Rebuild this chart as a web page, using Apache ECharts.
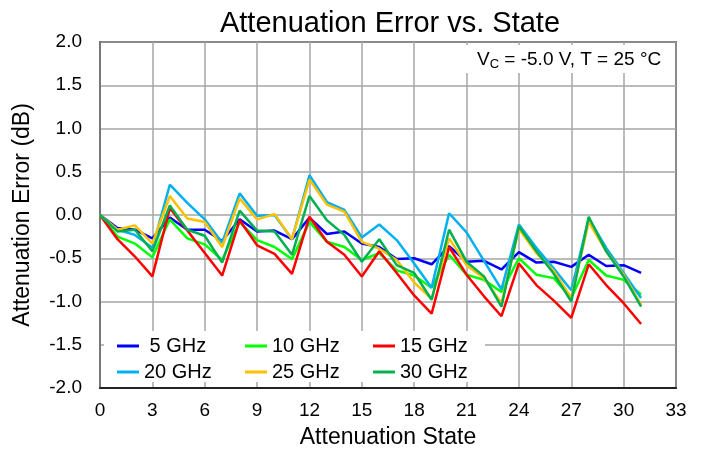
<!DOCTYPE html>
<html>
<head>
<meta charset="utf-8">
<script src="https://cdn.jsdelivr.net/npm/echarts@6/dist/echarts.min.js"></script>
<style>
html,body{margin:0;padding:0;background:#fff;}
#chart{width:705px;height:454px;}
</style>
</head>
<body>
<div id="chart"></div>
<script>
const states = [0,1,2,3,4,5,6,7,8,9,10,11,12,13,14,15,16,17,18,19,20,21,22,23,24,25,26,27,28,29,30,31];
const xTicks = [0,3,6,9,12,15,18,21,24,27,30,33];
const yTicks = [-2.0,-1.5,-1.0,-0.5,0.0,0.5,1.0,1.5,2.0];

const ghz5  = [0,-0.15,-0.17,-0.27,-0.03,-0.17,-0.17,-0.30,-0.05,-0.19,-0.18,-0.28,-0.03,-0.22,-0.19,-0.33,-0.37,-0.51,-0.50,-0.57,-0.36,-0.54,-0.53,-0.63,-0.43,-0.55,-0.54,-0.60,-0.46,-0.59,-0.58,-0.67];
const ghz10 = [0,-0.25,-0.33,-0.49,-0.05,-0.27,-0.34,-0.52,-0.08,-0.29,-0.37,-0.51,-0.08,-0.31,-0.37,-0.52,-0.44,-0.64,-0.70,-0.84,-0.46,-0.69,-0.75,-0.89,-0.50,-0.69,-0.73,-0.96,-0.52,-0.70,-0.75,-0.92];
const ghz15 = [0,-0.28,-0.48,-0.71,0.08,-0.18,-0.44,-0.70,-0.06,-0.35,-0.45,-0.68,-0.02,-0.31,-0.46,-0.71,-0.42,-0.67,-0.93,-1.14,-0.37,-0.69,-0.94,-1.17,-0.56,-0.81,-0.99,-1.19,-0.57,-0.81,-1.02,-1.26];
const ghz20 = [0,-0.17,-0.23,-0.38,0.35,0.14,-0.05,-0.32,0.25,-0.01,0.00,-0.28,0.46,0.15,0.06,-0.26,-0.11,-0.29,-0.56,-0.84,0.02,-0.20,-0.53,-0.86,-0.11,-0.38,-0.62,-0.87,-0.04,-0.38,-0.67,-0.96];
const ghz25 = [0,-0.17,-0.12,-0.33,0.22,-0.04,-0.08,-0.37,0.19,-0.05,0.01,-0.28,0.41,0.12,0.04,-0.31,-0.39,-0.52,-0.78,-0.97,-0.27,-0.58,-0.73,-1.02,-0.16,-0.44,-0.65,-0.96,-0.08,-0.42,-0.69,-1.04];
const ghz30 = [0,-0.19,-0.17,-0.42,0.11,-0.17,-0.24,-0.55,0.05,-0.18,-0.19,-0.46,0.22,-0.06,-0.23,-0.54,-0.28,-0.58,-0.67,-0.98,-0.17,-0.54,-0.71,-1.06,-0.13,-0.42,-0.68,-1.00,-0.02,-0.42,-0.71,-1.06];

const seriesNames = ['5 GHz','10 GHz','15 GHz','20 GHz','25 GHz','30 GHz'];
const seriesData = [ghz5, ghz10, ghz15, ghz20, ghz25, ghz30];
const seriesColors = ['#0000FF','#00FF00','#FF0000','#00B0F0','#FFC000','#00B050'];

const FONT = 'Arial, "Liberation Sans", sans-serif';

const chart = echarts.init(document.getElementById('chart'), null, {renderer:'canvas'});

const series = seriesNames.map((n, i) => ({
  name: n,
  type: 'line',
  data: states.map((s, j) => [s, seriesData[i][j]]),
  showSymbol: false,
  symbol: 'none',
  lineStyle: {width: 2.5, color: seriesColors[i]},
  itemStyle: {color: seriesColors[i]},
  z: 2,
  animation: false
}));

const legendCommon = {
  orient: 'horizontal',
  left: 117,
  itemWidth: 22,
  itemHeight: 3,
  itemGap: 21,
  padding: 0,
  icon: 'rect',
  textStyle: {fontFamily: FONT, fontSize: 20, color: '#000', width: 80, lineHeight: 20},
  formatter: name => name === '5 GHz' ? ' 5 GHz' : name,
  z: 5
};

chart.setOption({
  animation: false,
  backgroundColor: '#fff',
  title: {
    text: 'Attenuation Error vs. State',
    left: 385,
    textAlign: 'center',
    top: 4,
    textStyle: {fontFamily: FONT, fontSize: 29, fontWeight: 'normal', color: '#000'}
  },
  grid: {
    left: 100, right: 29, top: 42, bottom: 66,
    show: true, borderColor: '#000', borderWidth: 1.5, containLabel: false
  },
  legend: [
    Object.assign({}, legendCommon, {data: seriesNames.slice(0,3), top: 336}),
    Object.assign({}, legendCommon, {data: seriesNames.slice(3,6), top: 362})
  ],
  xAxis: {
    type: 'value',
    min: 0, max: 33, interval: 3,
    name: 'Attenuation State',
    nameLocation: 'middle',
    nameGap: 38,
    nameTextStyle: {fontFamily: FONT, fontSize: 23, color: '#000'},
    axisLine: {show: true, onZero: false, lineStyle: {color: '#222', width: 2}},
    axisTick: {show: false},
    axisLabel: {fontFamily: FONT, fontSize: 19, color: '#000', margin: 13,
      customValues: xTicks},
    splitLine: {show: true, lineStyle: {color: '#a6a6a6', width: 1.5}}
  },
  yAxis: {
    type: 'value',
    min: -2, max: 2, interval: 0.5,
    name: 'Attenuation Error (dB)',
    nameLocation: 'middle',
    nameGap: 66,
    nameRotate: 90,
    nameTextStyle: {fontFamily: FONT, fontSize: 23, color: '#000'},
    axisLine: {show: true, onZero: false, lineStyle: {color: '#777', width: 2}},
    axisTick: {show: false},
    axisLabel: {fontFamily: FONT, fontSize: 19, color: '#000', margin: 18,
      formatter: v => v.toFixed(1)},
    splitLine: {show: true, lineStyle: {color: '#a6a6a6', width: 1.5}}
  },
  graphic: [
    {type: 'rect', shape: {x: 104, y: 331, width: 381, height: 51}, style: {fill: '#fff'}, z: 3, silent: true},
    {type: 'rect', shape: {x: 462, y: 45, width: 212, height: 28}, style: {fill: '#fff'}, z: 3, silent: true},
    {type: 'text', x: 477, y: 60, z: 4, style: {
      text: '{v|V}{s|C}{v| = -5.0 V, T = 25 °C}',
      verticalAlign: 'middle',
      rich: {
        v: {fontFamily: FONT, fontSize: 19, fill: '#000', lineHeight: 22, verticalAlign: 'middle'},
        s: {fontFamily: FONT, fontSize: 13, fill: '#000', lineHeight: 14, verticalAlign: 'bottom'}
      }
    }}
  ],
  series: series
});
</script>
</body>
</html>
